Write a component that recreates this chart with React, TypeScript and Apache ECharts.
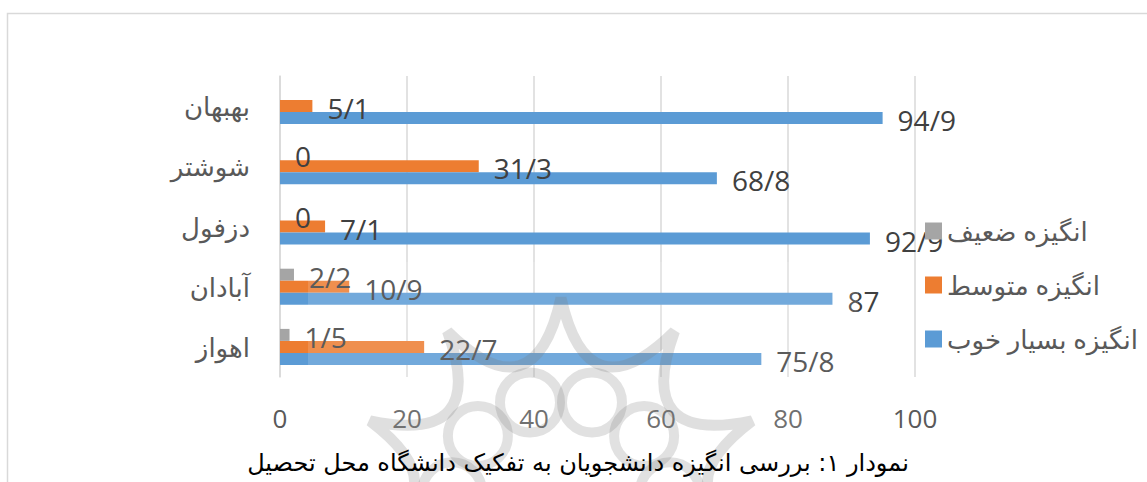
import React, { useEffect, useRef } from "react";
import * as echarts from "echarts";

const categories = ["اهواز", "آبادان", "دزفول", "شوشتر", "بهبهان"];
const seriesNames = ["انگیزه ضعیف", "انگیزه متوسط", "انگیزه بسیار خوب"];
const weak: (number | null)[] = [1.5, 2.2, 0, 0, null];
const medium = [22.7, 10.9, 7.1, 31.3, 5.1];
const veryGood = [75.8, 87, 92.9, 68.8, 94.9];
const colors = ["#a5a5a5", "#ed7d31", "#5b9bd5"];
const titleText = "نمودار ۱: بررسی انگیزه دانشجویان به تفکیک دانشگاه محل تحصیل";

const FONT = "'Open Sans', 'DejaVu Sans', sans-serif";

function rosettePath(): string {
  const cx = 561, cy = 508, R = 210, rc = 95, n = 11;
  const pts: string[] = [];
  for (let i = 0; i < n; i++) {
    const a0 = (i * 2 * Math.PI) / n;
    const a1 = ((i + 1) * 2 * Math.PI) / n;
    const am = (a0 + a1) / 2;
    const p0 = [cx + R * Math.sin(a0), cy - R * Math.cos(a0)];
    const p1 = [cx + R * Math.sin(a1), cy - R * Math.cos(a1)];
    const c = [cx + rc * Math.sin(am), cy - rc * Math.cos(am)];
    if (i === 0) pts.push(`M${p0[0].toFixed(1)} ${p0[1].toFixed(1)}`);
    pts.push(`Q${c[0].toFixed(1)} ${c[1].toFixed(1)} ${p1[0].toFixed(1)} ${p1[1].toFixed(1)}`);
  }
  pts.push("Z");
  return pts.join(" ");
}

let registered = false;

export default function App() {
  const ref = useRef<HTMLDivElement>(null);
  useEffect(() => {
    if (!ref.current) return;
    if (!registered) {
      echarts.graphic.registerShape("rosette", echarts.graphic.extendPath(rosettePath(), {}));
      registered = true;
    }
    const chart = echarts.init(ref.current, null, { renderer: "svg" });
    const fmt = (p: any) =>
      p.value === null || p.value === "-" || p.value === undefined ? "" : String(p.value).replace(".", "/");
    const mkLabel = () => ({
      show: true,
      position: "right",
      distance: 15,
      offset: [0, 2],
      color: "#404040",
      fontSize: 28,
      fontFamily: FONT,
      formatter: fmt,
    });
    const data = [weak, medium, veryGood];
    const loops: any[] = [];
    for (let i = 0; i < 11; i++) {
      const a = (i * 2 * Math.PI) / 11 + Math.PI / 11;
      loops.push({
        type: "ellipse",
        shape: { cx: 561 + 110 * Math.sin(a), cy: 508 - 110 * Math.cos(a), rx: 30, ry: 30 },
        style: { fill: "none", stroke: "rgba(120,120,120,0.22)", lineWidth: 10 },
        z: 10,
        silent: true,
      });
    }
    chart.setOption({
      animation: false,
      textStyle: { fontFamily: FONT },
      grid: { left: 280, right: 232, top: 76, bottom: 105, containLabel: false },
      legend: {
        orient: "vertical",
        left: 920,
        top: 213,
        itemWidth: 17,
        itemHeight: 17,
        itemGap: 28,
        icon: "rect",
        data: [seriesNames[0], seriesNames[1], seriesNames[2]],
        textStyle: { color: "#595959", fontSize: 26, fontFamily: FONT, lineHeight: 26 },
      },
      xAxis: {
        type: "value",
        min: 0,
        max: 100,
        interval: 20,
        axisLine: { show: false },
        axisTick: { show: false },
        splitLine: { lineStyle: { color: "#d9d9d9", width: 1.5 } },
        axisLabel: { color: "#595959", fontSize: 26, margin: 28, fontFamily: FONT },
      },
      yAxis: {
        type: "category",
        data: categories,
        axisLine: { show: true, lineStyle: { color: "#d9d9d9", width: 1.5 } },
        axisTick: { show: false },
        axisLabel: { color: "#595959", fontSize: 26, margin: 30, fontFamily: FONT },
      },
      series: seriesNames.map((name, i) => ({
        name,
        type: "bar",
        barWidth: 12,
        barGap: "0%",
        itemStyle: { color: colors[i] },
        label: mkLabel(),
        data: data[i].map((v) => (v === null ? "-" : v)),
      })),
      graphic: [
        {
          type: "rect",
          shape: { x: 7.5, y: 13.5, width: 1160, height: 500 },
          style: { fill: "none", stroke: "#d9d9d9", lineWidth: 1.5 },
          silent: true,
          z: -10,
        },
        {
          type: "rect",
          shape: { x: 308, y: 262, width: 550, height: 230 },
          style: { fill: "rgba(255,255,255,0.14)" },
          silent: true,
          z: 10,
        },
        {
          type: "rosette",
          x: 0,
          y: 0,
          style: { fill: "none", stroke: "rgba(120,120,120,0.24)", lineWidth: 11 },
          silent: true,
          z: 10,
        },
        ...loops,
        {
          type: "text",
          x: 578,
          y: 463,
          style: {
            text: titleText,
            fill: "#000000",
            fontSize: 24,
            fontFamily: "'DejaVu Sans', sans-serif",
            textAlign: "center",
            textVerticalAlign: "middle",
          },
          z: 20,
        },
      ],
    });
    return () => chart.dispose();
  }, []);
  return (
    <div
      ref={ref}
      style={{ position: "fixed", left: 0, top: 0, width: 1147, height: 482, background: "#fff" }}
    />
  );
}
